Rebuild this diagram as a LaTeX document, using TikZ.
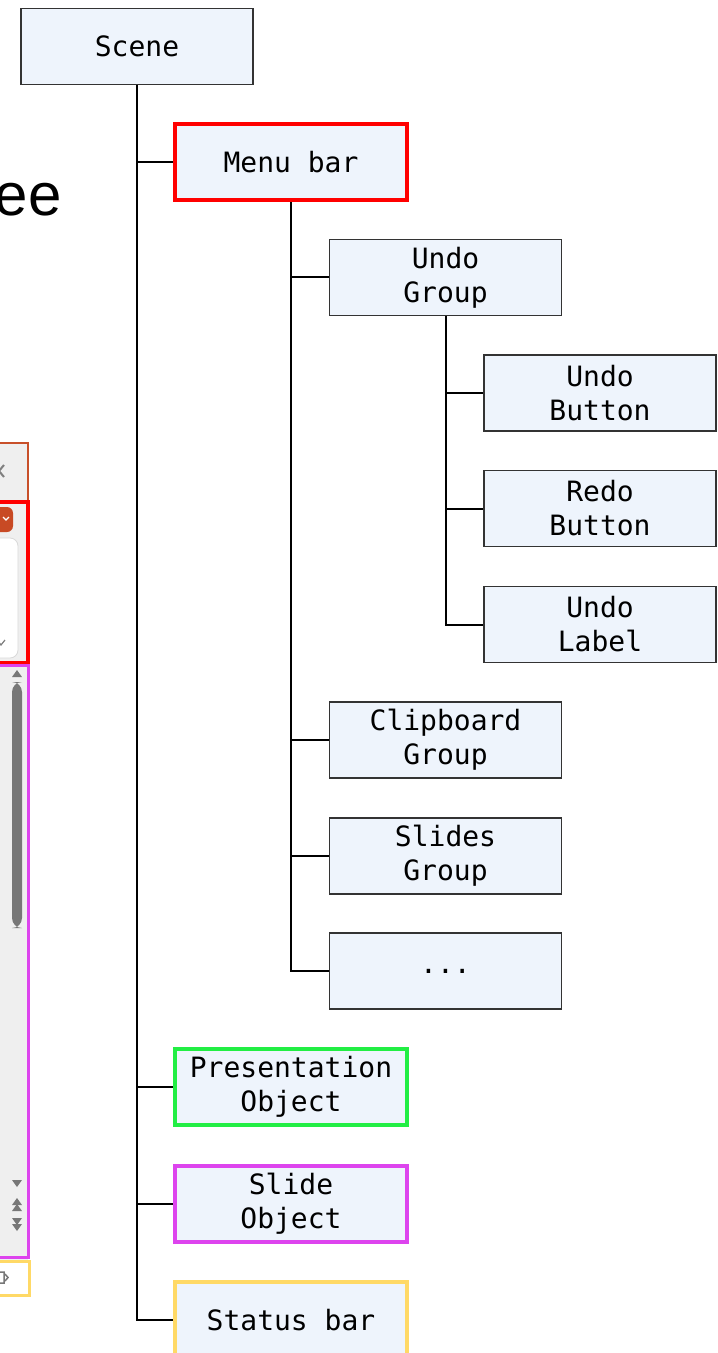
\documentclass[tikz,border=0pt]{standalone}
\usepackage{fontspec}
\setmonofont{DejaVu Sans Mono}
\newfontfamily\titlefont{Liberation Sans}
\usepackage{tikz}

\definecolor{boxfill}{HTML}{EEF4FC}
\definecolor{boxline}{HTML}{333333}
\definecolor{menured}{HTML}{FF0000}
\definecolor{presgreen}{HTML}{22EE44}
\definecolor{slidemagenta}{HTML}{DD44EE}
\definecolor{statusgold}{HTML}{FFD966}
\definecolor{panelgray}{HTML}{EFEFEF}
\definecolor{windowline}{HTML}{C8502A}
\definecolor{btnorange}{HTML}{C84A24}
\definecolor{thumbgray}{HTML}{777777}

\begin{document}
\begin{tikzpicture}[x=0.5pt, y=-0.5pt,
	every node/.style={inner sep=0pt},
	treebox/.style={draw=boxline, line width=0.75pt, fill=boxfill, minimum width=116pt, minimum height=38pt,
		align=center, font=\ttfamily\fontsize{14}{17}\selectfont},
	branch/.style={line width=1pt}]

	\useasboundingbox (0,0) rectangle (717,1353);
	\clip (0,0) rectangle (717,1353);

	% piece of the slide window on the left
	\fill[panelgray] (-10,443) rectangle (28,1295);
	\draw[windowline, line width=0.75pt] (-10,443) -- (28,443) -- (28,502);
	\draw[gray, line width=1pt] (-6,465) -- (4,477) (-6,477) -- (4,465);
	\fill[btnorange, rounded corners=3pt] (-10,507) rectangle (13,532);
	\draw[white, line width=0.6pt] (3,517) -- (6,520) -- (9,517);
	\filldraw[fill=white, draw=gray!30, rounded corners=4pt] (-10,538) rectangle (18,658);
	\draw[gray, line width=0.6pt] (-2,641) -- (1,645) -- (5,640);
	\draw[menured, line width=2pt] (-10,502) rectangle (28,663);

	\fill[thumbgray] (12,677) -- (22,677) -- (17,670) -- cycle;
	\fill[thumbgray, rounded corners=5pt] (12,682) rectangle (22,928);
	\fill[thumbgray] (12,1180) -- (22,1180) -- (17,1187) -- cycle;
	\fill[thumbgray] (12,1205) -- (22,1205) -- (17,1198) -- cycle;
	\fill[thumbgray] (12,1211) -- (22,1211) -- (17,1204) -- cycle;
	\fill[thumbgray] (12,1218) -- (22,1218) -- (17,1225) -- cycle;
	\fill[thumbgray] (12,1224) -- (22,1224) -- (17,1231) -- cycle;
	\draw[slidemagenta, line width=1.5pt] (-10,665) rectangle (28,1257);

	\filldraw[fill=white, draw=statusgold, line width=1.5pt] (-10,1261) rectangle (29,1295);
	\draw[thumbgray, line width=0.75pt] (-3,1272) rectangle (4,1283) (5,1274) -- (8,1277.5) -- (5,1281);

	\node[anchor=base east, font=\titlefont\fontsize{30}{36}\selectfont] (title) at (62,216) {Tree};

	% the tree
	\node[treebox] (scene) at (137,46.5) {Scene};
	\node[treebox, draw=menured, line width=2pt] (menubar) at (291,162.5) {Menu bar};

	\node[treebox] (undogroup) at (445.5,277.5) {Undo\\Group};
	\node[treebox] (undobutton) at (600,393) {Undo\\Button};
	\node[treebox] (redobutton) at (600,508.5) {Redo\\Button};
	\node[treebox] (undolabel) at (600,624.5) {Undo\\Label};

	\node[treebox] (clipboardgroup) at (445.5,740) {Clipboard\\Group};
	\node[treebox] (slidesgroup) at (445.5,856) {Slides\\Group};
	\node[treebox] (moregroups) at (445.5,971) {...};

	\node[treebox, draw=presgreen, line width=2pt] (presentation) at (291,1087) {Presentation\\Object};
	\node[treebox, draw=slidemagenta, line width=2pt] (slideobject) at (291,1203.5) {Slide\\Object};
	\node[treebox, draw=statusgold, line width=2pt] (statusbar) at (291,1320) {Status bar};

	\draw[branch] (scene.south) |- (menubar.west);
	\draw[branch] (scene.south) |- (presentation.west);
	\draw[branch] (scene.south) |- (slideobject.west);
	\draw[branch] (scene.south) |- (statusbar.west);

	\draw[branch] (menubar.south) |- (undogroup.west);
	\draw[branch] (menubar.south) |- (clipboardgroup.west);
	\draw[branch] (menubar.south) |- (slidesgroup.west);
	\draw[branch] (menubar.south) |- (moregroups.west);

	\draw[branch] (undogroup.south) |- (undobutton.west);
	\draw[branch] (undogroup.south) |- (redobutton.west);
	\draw[branch] (undogroup.south) |- (undolabel.west);

\end{tikzpicture}
\end{document}
